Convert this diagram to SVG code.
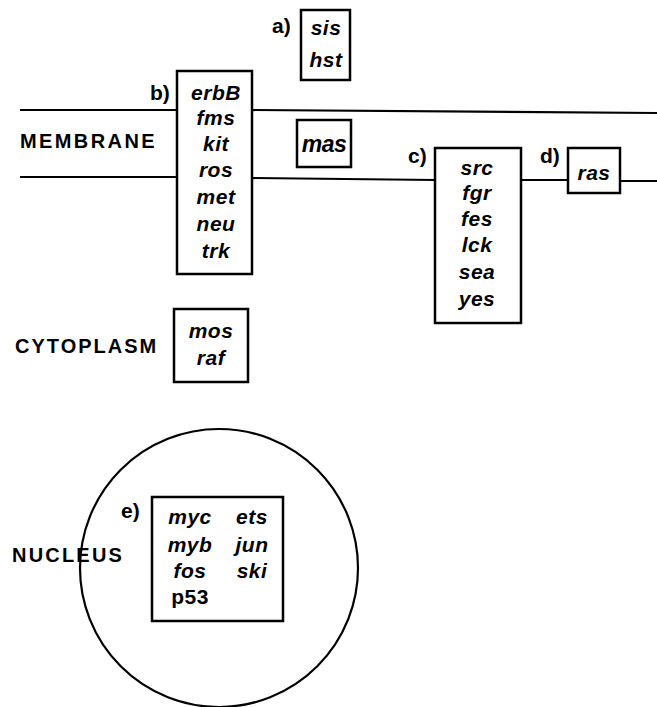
<svg xmlns="http://www.w3.org/2000/svg" width="657" height="707" viewBox="0 0 657 707">
<style>
.box{fill:#fff;stroke:#000;stroke-width:2.5}
.ln{fill:none;stroke:#000;stroke-width:2.2}
.g{font-family:"Liberation Sans",Arial,sans-serif;font-weight:bold;font-style:italic;font-size:21px;letter-spacing:0.5px;text-anchor:middle;fill:#000}
.lab{font-family:"Liberation Sans",Arial,sans-serif;font-weight:bold;font-size:20px;fill:#000}
.tag{font-family:"Liberation Sans",Arial,sans-serif;font-weight:bold;font-size:21px;fill:#000}
</style>
<rect width="657" height="707" fill="#fff"/>
<g id="connectors">
<line class="ln" x1="20" y1="110" x2="177" y2="110"/>
<line class="ln" x1="20" y1="177" x2="177" y2="177"/>
<line class="ln" x1="252" y1="110" x2="657" y2="113"/>
<line class="ln" x1="252" y1="178" x2="435" y2="180"/>
<line class="ln" x1="521" y1="180" x2="568" y2="180"/>
<line class="ln" x1="620" y1="181" x2="657" y2="181"/>
<circle class="ln" cx="219" cy="568" r="139"/>
</g>
<g id="labels">
<text class="lab" x="20" y="148" letter-spacing="2.4">MEMBRANE</text>
<text class="lab" x="15" y="353" letter-spacing="2">CYTOPLASM</text>
<text class="lab" x="12" y="562" letter-spacing="2.2">NUCLEUS</text>
</g>
<g id="node-a">
<text class="tag" x="272" y="33">a)</text>
<rect class="box" x="301" y="10" width="49" height="70"/>
<text class="g" x="326" y="35">sis</text>
<text class="g" x="326" y="67">hst</text>
</g>
<g id="node-b">
<text class="tag" x="150" y="100">b)</text>
<rect class="box" x="177" y="71" width="75" height="203"/>
<text class="g" x="216" y="100">erbB</text>
<text class="g" x="216" y="125">fms</text>
<text class="g" x="216" y="151">kit</text>
<text class="g" x="216" y="177">ros</text>
<text class="g" x="216" y="204">met</text>
<text class="g" x="216" y="231">neu</text>
<text class="g" x="216" y="258">trk</text>
</g>
<g id="node-mas">
<rect class="box" x="297" y="120" width="54" height="47"/>
<text class="g" x="324" y="152" style="font-size:23px;letter-spacing:-0.5px">mas</text>
</g>
<g id="node-c">
<text class="tag" x="408" y="163">c)</text>
<rect class="box" x="435" y="148" width="86" height="175"/>
<text class="g" x="477" y="175">src</text>
<text class="g" x="477" y="200">fgr</text>
<text class="g" x="477" y="226">fes</text>
<text class="g" x="477" y="252">lck</text>
<text class="g" x="477" y="279">sea</text>
<text class="g" x="477" y="306">yes</text>
</g>
<g id="node-d">
<text class="tag" x="540" y="163">d)</text>
<rect class="box" x="568" y="148" width="52" height="45"/>
<text class="g" x="594" y="180">ras</text>
</g>
<g id="node-mos">
<rect class="box" x="174" y="309" width="74" height="73"/>
<text class="g" x="211" y="338">mos</text>
<text class="g" x="211" y="365">raf</text>
</g>
<g id="node-e">
<text class="tag" x="121" y="518">e)</text>
<rect class="box" x="152" y="497" width="131" height="124"/>
<text class="g" x="190" y="524">myc</text>
<text class="g" x="190" y="552">myb</text>
<text class="g" x="190" y="578">fos</text>
<text class="g" x="190" y="604" style="font-style:normal">p53</text>
<text class="g" x="252" y="524">ets</text>
<text class="g" x="252" y="552">jun</text>
<text class="g" x="252" y="578">ski</text>
</g>
</svg>
